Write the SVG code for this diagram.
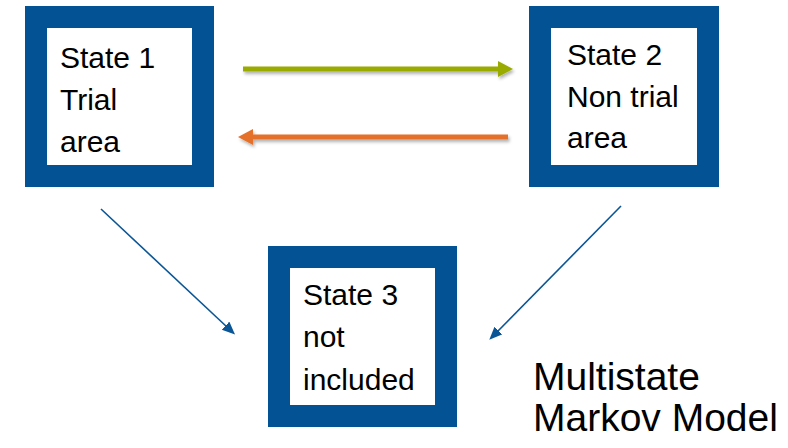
<svg xmlns="http://www.w3.org/2000/svg" width="788" height="448" viewBox="0 0 788 448">
<defs>
<style>
.box{fill:#ffffff;stroke:#035293;stroke-width:22}
.lbl{font-family:"Liberation Sans",Arial,sans-serif;font-size:30px;fill:#000}
.title{font-family:"Liberation Sans",Arial,sans-serif;font-size:39px;fill:#000}
.blue{stroke:#0a5596;stroke-width:1.6;fill:none}
</style>
<filter id="sh" filterUnits="userSpaceOnUse" x="0" y="0" width="788" height="448">
<feDropShadow dx="1.5" dy="2.5" stdDeviation="1.5" flood-color="#000" flood-opacity="0.3"/>
</filter>
<marker id="hg" markerUnits="userSpaceOnUse" markerWidth="16" markerHeight="17" refX="0" refY="8" orient="auto">
<path d="M0,0 L15,8 L0,16 z" fill="#9aab00"/>
</marker>
<marker id="ho" markerUnits="userSpaceOnUse" markerWidth="16" markerHeight="17" refX="0" refY="8" orient="auto">
<path d="M0,0 L15,8 L0,16 z" fill="#e4702a"/>
</marker>
<marker id="hb" markerUnits="userSpaceOnUse" markerWidth="14" markerHeight="12" refX="2" refY="5.5" orient="auto">
<path d="M0,0 L13,5.5 L0,11 z" fill="#0a5596"/>
</marker>
</defs>
<g id="connectors">
<line x1="243" y1="69" x2="498" y2="69" stroke="#9aab00" stroke-width="5" marker-end="url(#hg)" filter="url(#sh)"/>
<line x1="508" y1="137" x2="253" y2="137" stroke="#e4702a" stroke-width="5" marker-end="url(#ho)" filter="url(#sh)"/>
<line class="blue" x1="101" y1="209" x2="227" y2="327" marker-end="url(#hb)"/>
<line class="blue" x1="621" y1="206" x2="497" y2="332" marker-end="url(#hb)"/>
</g>
<g id="state1">
<rect class="box" x="36" y="17" width="167" height="159"/>
<text class="lbl" x="60" y="68">State 1</text>
<text class="lbl" x="60" y="110">Trial</text>
<text class="lbl" x="60" y="152">area</text>
</g>
<g id="state2">
<rect class="box" x="540" y="17" width="168" height="159"/>
<text class="lbl" x="567" y="65">State 2</text>
<text class="lbl" x="567" y="107">Non trial</text>
<text class="lbl" x="567" y="148">area</text>
</g>
<g id="state3">
<rect class="box" x="279" y="257" width="167" height="159"/>
<text class="lbl" x="303" y="305">State 3</text>
<text class="lbl" x="303" y="347">not</text>
<text class="lbl" x="303" y="390">included</text>
</g>
<g id="title">
<text class="title" x="533" y="390">Multistate</text>
<text class="title" x="533" y="431">Markov Model</text>
</g>
</svg>
